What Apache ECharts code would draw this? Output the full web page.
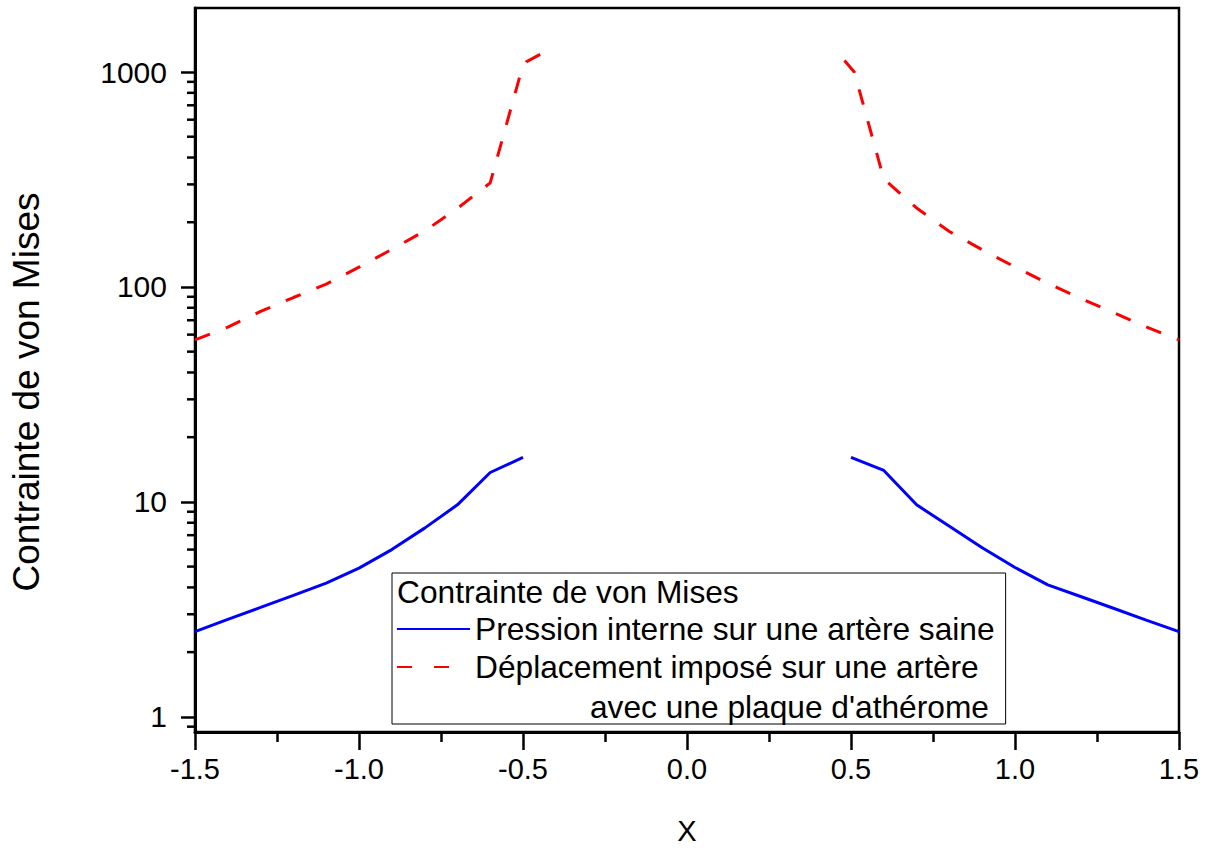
<!DOCTYPE html>
<html>
<head>
<meta charset="utf-8">
<script src="https://cdn.jsdelivr.net/npm/echarts@6/dist/echarts.min.js"></script>
<style>
html,body{margin:0;padding:0;background:#fff;}
#chart{width:1211px;height:848px;}
</style>
</head>
<body>
<div id="chart"></div>
<script>
// ---- data ----
const xTicks = [-1.5, -1.0, -0.5, 0.0, 0.5, 1.0, 1.5];
const yMajorTicks = [1, 10, 100, 1000];
const yMinorTicks = [0.9, 2, 3, 4, 5, 6, 7, 8, 9, 20, 30, 40, 50, 60, 70, 80, 90,
  200, 300, 400, 500, 600, 700, 800, 900];

const nameBlue = 'Pression interne sur une artère saine';
const nameRed = "Déplacement imposé sur une artère avec une plaque d'athérome";
const legendTitle = 'Contrainte de von Mises';

const blueLeft = [[-1.5, 2.49], [-1.4, 2.84], [-1.3, 3.23], [-1.2, 3.67], [-1.1, 4.19],
  [-1.0, 4.92], [-0.9, 6.0], [-0.8, 7.55], [-0.7, 9.69], [-0.6, 13.7], [-0.5, 16.1]];
const blueRight = [[0.5, 16.1], [0.6, 14.0], [0.7, 9.69], [0.8, 7.7], [0.9, 6.12],
  [1.0, 4.95], [1.1, 4.11], [1.2, 3.63], [1.3, 3.2], [1.4, 2.82], [1.5, 2.49]];

const redLeft = [[-1.5, 56.7], [-1.4, 65], [-1.3, 76.9], [-1.2, 89.3], [-1.1, 103],
  [-1.0, 123.6], [-0.9, 149.6], [-0.8, 182], [-0.7, 232], [-0.6, 305],
  [-0.51, 950], [-0.49, 1115], [-0.44, 1225]];
const redRight = [[0.48, 1130], [0.51, 1000], [0.6, 318], [0.7, 233], [0.8, 181],
  [0.9, 149], [1.0, 123.8], [1.1, 104], [1.2, 88.5], [1.3, 76], [1.4, 65.2], [1.5, 56.7]];

// ---- chart ----
const FONT = 'Liberation Sans, Arial, sans-serif';
const chart = echarts.init(document.getElementById('chart'), null, {renderer: 'svg'});

const blueStyle = {color: '#0000ff', width: 3, type: 'solid'};
const redStyle = {color: '#ff0000', width: 3, type: [16, 17]};
const X_MIN = -1.5;

const option = {
  backgroundColor: '#ffffff',
  animation: false,
  title: [
    {text: legendTitle, left: 397, top: 576, padding: 0,
     textStyle: {fontFamily: FONT, fontSize: 31.7, fontWeight: 'normal', color: '#000'}},
    {text: "avec une plaque d'athérome", left: 590, top: 691, padding: 0,
     textStyle: {fontFamily: FONT, fontSize: 31.7, fontWeight: 'normal', color: '#000'}}
  ],
  legend: {
    orient: 'vertical',
    left: 392, top: 573,
    padding: [38, 11, 39, 4],
    itemWidth: 73, itemHeight: 14, itemGap: 2,
    borderColor: '#000', borderWidth: 1,
    selectedMode: false,
    itemStyle: {opacity: 0},
    formatter: function (n) { return n.split(' avec')[0]; },
    textStyle: {fontFamily: FONT, fontSize: 31.7, color: '#000', lineHeight: 36},
    data: [
      {name: nameBlue},
      {name: nameRed, lineStyle: {type: [15, 22]}}
    ]
  },
  grid: {left: 195, right: 32, top: 8, bottom: 116, show: true,
         borderColor: '#000', borderWidth: 2.5, containLabel: false, outerBoundsMode: 'none'},
  xAxis: {
    type: 'value', min: -1.5, max: 1.5, interval: 0.5,
    name: 'X', nameLocation: 'middle', nameGap: 84,
    nameTextStyle: {fontFamily: FONT, fontSize: 29, color: '#000'},
    axisLine: {show: true, onZero: false, lineStyle: {color: '#000', width: 3}},
    axisTick: {show: true, inside: false, length: 18, lineStyle: {color: '#000', width: 2.5}, customValues: xTicks},
    minorTick: {show: true, splitNumber: 2, length: 10, lineStyle: {color: '#000', width: 2.5}},
    axisLabel: {fontFamily: FONT, fontSize: 29, color: '#000', margin: 22, customValues: xTicks,
      formatter: function (v) { return v.toFixed(1); }},
    splitLine: {show: false}
  },
  yAxis: {
    type: 'log', logBase: 10, min: 0.85, max: 1985, position: 'left',
    name: 'Contrainte de von Mises', nameLocation: 'middle', nameGap: 150,
    nameTextStyle: {fontFamily: FONT, fontSize: 37, color: '#000', padding: [0, 44, 0, 0]},
    axisLine: {show: true, onZero: false, lineStyle: {color: '#000', width: 3}},
    axisTick: {show: true, inside: false, length: 14, lineStyle: {color: '#000', width: 2.5}, customValues: yMajorTicks},
    axisLabel: {fontFamily: FONT, fontSize: 30, color: '#000', margin: 28, customValues: yMajorTicks,
      formatter: function (v) { return String(Math.round(v)); }},
    splitLine: {show: false}
  },
  series: [
    {name: nameBlue, type: 'line', data: blueLeft, showSymbol: false, symbol: 'none', lineStyle: blueStyle, color: '#0000ff'},
    {name: nameBlue, type: 'line', data: blueRight, showSymbol: false, symbol: 'none', lineStyle: blueStyle, color: '#0000ff'},
    {name: nameRed, type: 'line', data: redLeft, showSymbol: false, symbol: 'none', lineStyle: redStyle, color: '#ff0000'},
    {name: nameRed, type: 'line', data: redRight, showSymbol: false, symbol: 'none', lineStyle: redStyle, color: '#ff0000'}
  ]
};
chart.setOption(option);

// Log-scale minor ticks (2..9 of each decade), positioned through the y axis scale
const axisX = chart.convertToPixel({xAxisIndex: 0}, X_MIN);
const minorTickMarks = yMinorTicks.map(function (v) {
  const py = chart.convertToPixel({yAxisIndex: 0}, v);
  return {type: 'line', silent: true, z: 10,
          shape: {x1: axisX - 8, y1: py, x2: axisX, y2: py},
          style: {stroke: '#000', lineWidth: 2.5}};
});
chart.setOption({graphic: minorTickMarks});
</script>
</body>
</html>
